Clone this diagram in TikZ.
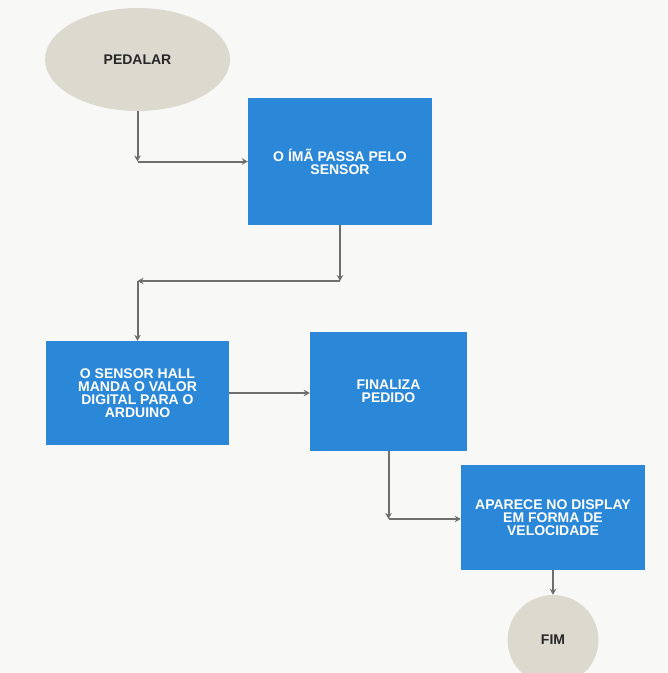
\documentclass[tikz,border=0pt]{standalone}
\usepackage{fontspec}
\setmainfont{Liberation Sans}
\usetikzlibrary{shapes.geometric,arrows.meta}
\definecolor{caixa}{HTML}{2B88D8}
\definecolor{bege}{HTML}{DCDACF}
\definecolor{cinzaseta}{HTML}{6E6E6E}
\definecolor{fundo}{HTML}{F8F8F7}
\newcommand{\rotulo}{\bfseries\fontsize{14}{13}\selectfont}
\tikzset{
	etapa/.style={rectangle, fill=caixa, text=white, align=center, font=\rotulo, inner sep=0pt},
	terminal/.style={ellipse, fill=bege, text=black!85, align=center, font=\rotulo, inner sep=0pt},
	ligacao/.style={draw=cinzaseta, line width=2pt, -{Stealth[length=6pt,width=6.5pt]}}
}

\begin{document}
\begin{tikzpicture}[x=1pt,y=-1pt]
		\useasboundingbox (0,0) rectangle (668,673);
		\clip (0,0) rectangle (668,673);
		\fill[fundo] (0,0) rectangle (668,673);

		\begin{scope}
			\node[terminal, minimum width=185, minimum height=103] (pedalar) at (137.5,59.5) {PEDALAR};
			\node[etapa, minimum width=184, minimum height=127] (ima) at (340,161.5) {O ÍMÃ PASSA PELO\\SENSOR};
			\node[etapa, minimum width=183, minimum height=104] (hall) at (137.5,393) {O SENSOR HALL\\MANDA O VALOR\\DIGITAL PARA O\\ARDUINO};
			\node[etapa, minimum width=157, minimum height=119] (finaliza) at (388.5,391.5) {FINALIZA\\PEDIDO};
			\node[etapa, minimum width=184, minimum height=105] (display) at (553,517.5) {APARECE NO DISPLAY\\EM FORMA DE\\VELOCIDADE};
			\node[terminal, minimum width=91, minimum height=90] (fim) at (553,640) {FIM};
		\end{scope}

		% cantos das ligacoes
		\coordinate (c1) at (pedalar.south |- ima.west);
		\coordinate (c2) at (ima.south |- 0,281);
		\coordinate (c3) at (hall.north |- 0,281);
		\coordinate (c4) at (finaliza.south |- 0,519);

		\begin{scope}[ligacao]
			\draw (pedalar.south) to (c1);
			\draw (c1) to (ima.west);
			\draw (ima.south) to (c2);
			\draw (c2) to (c3);
			\draw (c3) to (hall.north);
			\draw (hall.east) to (finaliza.west |- hall.east);
			\draw (finaliza.south) to (c4);
			\draw (c4) to (display.west |- c4);
			\draw (display.south) to (fim.north);
		\end{scope}
	\end{tikzpicture}
\end{document}
